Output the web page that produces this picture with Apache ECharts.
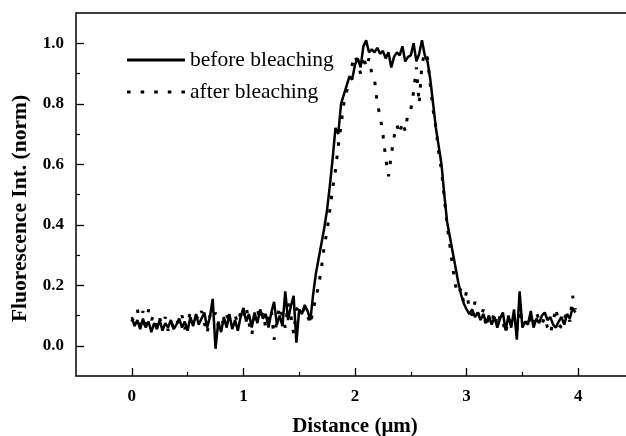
<!DOCTYPE html>
<html>
<head>
<meta charset="utf-8">
<script src="https://cdn.jsdelivr.net/npm/echarts@6/dist/echarts.min.js"></script>
<style>
html,body{margin:0;padding:0;background:#fff;}
#chart{width:626px;height:436px;}
</style>
</head>
<body>
<div id="chart"></div>
<script>
// Sample positions along the line profile (µm)
const distance = [
  0.000,0.025,0.050,0.075,0.100,0.125,0.150,0.175,0.200,0.225,
  0.250,0.275,0.300,0.325,0.350,0.375,0.400,0.425,0.450,0.475,
  0.500,0.525,0.550,0.575,0.600,0.625,0.650,0.675,0.700,0.725,
  0.750,0.775,0.800,0.825,0.850,0.875,0.900,0.925,0.950,0.975,
  1.000,1.025,1.050,1.075,1.100,1.125,1.150,1.175,1.200,1.225,
  1.250,1.275,1.300,1.325,1.350,1.375,1.400,1.425,1.450,1.475,
  1.500,1.525,1.550,1.575,1.600,1.625,1.650,1.675,1.700,1.725,
  1.750,1.775,1.800,1.825,1.850,1.875,1.900,1.925,1.950,1.975,
  2.000,2.025,2.050,2.075,2.100,2.125,2.150,2.175,2.200,2.225,
  2.250,2.275,2.300,2.325,2.350,2.375,2.400,2.425,2.450,2.475,
  2.500,2.525,2.550,2.575,2.600,2.625,2.650,2.675,2.700,2.725,
  2.750,2.775,2.800,2.825,2.850,2.875,2.900,2.925,2.950,2.975,
  3.000,3.025,3.050,3.075,3.100,3.125,3.150,3.175,3.200,3.225,
  3.250,3.275,3.300,3.325,3.350,3.375,3.400,3.425,3.450,3.475,
  3.500,3.525,3.550,3.575,3.600,3.625,3.650,3.675,3.700,3.725,
  3.750,3.775,3.800,3.825,3.850,3.875,3.900,3.925,3.950,3.975
];

const beforeBleaching = [
  0.095,0.065,0.085,0.055,0.090,0.060,0.080,0.045,0.075,0.055,
  0.085,0.050,0.075,0.060,0.085,0.055,0.070,0.090,0.060,0.080,
  0.050,0.095,0.065,0.105,0.070,0.090,0.110,0.060,0.095,0.155,
  -0.010,0.080,0.045,0.095,0.060,0.105,0.055,0.085,0.050,0.095,
  0.125,0.080,0.105,0.060,0.110,0.075,0.120,0.090,0.105,0.060,
  0.110,0.145,0.070,0.100,0.065,0.180,0.085,0.130,0.165,0.010,
  0.120,0.105,0.135,0.115,0.085,0.170,0.240,0.290,0.340,0.390,
  0.450,0.530,0.620,0.720,0.700,0.800,0.830,0.860,0.890,0.880,
  0.930,0.950,0.920,0.990,1.010,0.970,0.980,0.970,0.985,0.965,
  0.975,0.950,0.970,0.920,0.955,0.970,0.960,0.990,0.940,0.955,
  0.960,1.000,0.940,0.965,1.010,0.960,0.940,0.880,0.800,0.720,
  0.660,0.600,0.500,0.410,0.360,0.310,0.260,0.210,0.170,0.140,
  0.120,0.105,0.120,0.095,0.110,0.085,0.105,0.075,0.100,0.070,
  0.095,0.060,0.090,0.110,0.050,0.100,0.060,0.120,0.020,0.180,
  0.060,0.080,0.070,0.115,0.060,0.090,0.075,0.100,0.110,0.085,
  0.095,0.070,0.060,0.080,0.095,0.070,0.105,0.090,0.125,0.110
];

const afterBleaching = [
  0.080,0.100,0.120,0.070,0.115,0.050,0.120,0.085,0.100,0.060,
  0.090,0.070,0.095,0.050,0.080,0.060,0.085,0.070,0.100,0.055,
  0.080,0.110,0.070,0.100,0.085,0.115,0.075,0.040,0.100,0.085,
  0.110,0.065,0.090,0.070,0.100,0.085,0.060,0.100,0.075,0.110,
  0.090,0.130,0.075,0.035,0.100,0.120,0.085,0.110,0.060,0.095,
  0.120,0.020,0.085,0.130,0.095,0.060,0.140,0.100,0.040,0.120,
  0.130,0.110,0.125,0.100,0.070,0.120,0.160,0.200,0.260,0.330,
  0.380,0.450,0.520,0.580,0.660,0.730,0.800,0.840,0.880,0.930,
  0.960,0.930,0.900,0.960,0.920,0.950,0.900,0.880,0.800,0.760,
  0.700,0.620,0.560,0.630,0.690,0.730,0.700,0.740,0.710,0.770,
  0.780,0.840,0.920,0.800,0.930,0.970,0.950,0.860,0.780,0.720,
  0.640,0.580,0.490,0.400,0.330,0.260,0.200,0.170,0.190,0.140,
  0.180,0.120,0.100,0.145,0.110,0.090,0.120,0.060,0.095,0.080,
  0.110,0.065,0.100,0.080,0.040,0.090,0.075,0.100,0.050,0.120,
  0.080,0.090,0.060,0.100,0.075,0.110,0.085,0.070,0.095,0.060,
  0.040,0.080,0.125,0.070,0.060,0.090,0.110,0.080,0.165,0.120
];

const seriesNames = ['before bleaching', 'after bleaching'];
const xTickLabels = [0, 1, 2, 3, 4];
const xMinorTicks = [0.5, 1.5, 2.5, 3.5];
const yTickLabels = [0.0, 0.2, 0.4, 0.6, 0.8, 1.0];
const yMinorTicks = [0.1, 0.3, 0.5, 0.7, 0.9];
const xTitle = 'Distance (μm)';
const yTitle = 'Fluorescence Int. (norm)';

const pair = (ys) => distance.map((x, i) => [x, ys[i]]);

const serif = '"Liberation Serif", "Times New Roman", serif';
const black = '#000';
const solidStyle = {color: black, width: 2.5, type: 'solid'};
const dotStyle = {color: black, width: 3, type: [3.5, 10]};

const solidIcon = 'path://M0,0h58v3h-58z';
const dotIcon = 'path://M0,0h3.6v3h-3.6z M13.6,0h3.6v3h-3.6z M27.2,0h3.6v3h-3.6z M40.8,0h3.6v3h-3.6z M54.4,0h3.6v3h-3.6z';

const chart = echarts.init(document.getElementById('chart'), null, {renderer: 'canvas'});

chart.setOption({
  animation: false,
  backgroundColor: '#fff',
  grid: {left: 76, top: 13, width: 558, height: 363, containLabel: false, outerBoundsMode: 'none'},
  legend: {
    left: 122, top: 44, orient: 'vertical',
    itemWidth: 58, itemHeight: 3, itemGap: 10,
    data: [
      {name: seriesNames[0], icon: solidIcon},
      {name: seriesNames[1], icon: dotIcon}
    ],
    textStyle: {fontFamily: serif, fontSize: 21.5, color: black}
  },
  xAxis: [
    {
      type: 'value', min: -0.5, max: 4.5, position: 'bottom',
      axisLine: {show: true, onZero: false, lineStyle: {color: black, width: 1.5}},
      axisTick: {show: true, inside: true, length: 8, customValues: xTickLabels, lineStyle: {color: black, width: 1.3}},
      axisLabel: {show: true, customValues: xTickLabels, margin: 12, fontFamily: serif, fontWeight: 'bold', fontSize: 17, color: black,
        formatter: v => String(v)},
      splitLine: {show: false},
      name: xTitle, nameLocation: 'middle', nameGap: 40,
      nameTextStyle: {fontFamily: serif, fontWeight: 'bold', fontSize: 21, color: black}
    },
    {
      type: 'value', min: -0.5, max: 4.5, position: 'bottom',
      axisLine: {show: false, onZero: false},
      axisTick: {show: true, inside: true, length: 4, customValues: xMinorTicks, lineStyle: {color: black, width: 1.2}},
      axisLabel: {show: false}, splitLine: {show: false}
    },
    {
      type: 'value', min: -0.5, max: 4.5, position: 'top',
      axisLine: {show: true, onZero: false, lineStyle: {color: black, width: 1.5}},
      axisTick: {show: false}, axisLabel: {show: false}, splitLine: {show: false}
    }
  ],
  yAxis: [
    {
      type: 'value', min: -0.1, max: 1.1, position: 'left',
      axisLine: {show: true, onZero: false, lineStyle: {color: black, width: 1.5}},
      axisTick: {show: true, inside: true, length: 8, customValues: yTickLabels, lineStyle: {color: black, width: 1.3}},
      axisLabel: {show: true, customValues: yTickLabels, margin: 12, fontFamily: serif, fontWeight: 'bold', fontSize: 17, color: black,
        formatter: v => v.toFixed(1)},
      splitLine: {show: false},
      name: yTitle, nameLocation: 'middle', nameGap: 43, nameRotate: 90,
      nameTextStyle: {fontFamily: serif, fontWeight: 'bold', fontSize: 21.5, color: black, padding: [0, 28, 0, 0]}
    },
    {
      type: 'value', min: -0.1, max: 1.1, position: 'left',
      axisLine: {show: false, onZero: false},
      axisTick: {show: true, inside: true, length: 4, customValues: yMinorTicks, lineStyle: {color: black, width: 1.2}},
      axisLabel: {show: false}, splitLine: {show: false}
    }
  ],
  series: [
    {
      name: seriesNames[0], type: 'line', xAxisIndex: 0, yAxisIndex: 0,
      data: pair(beforeBleaching), showSymbol: false, symbol: 'none',
      lineStyle: solidStyle, itemStyle: {color: black}, z: 3
    },
    {
      name: seriesNames[1], type: 'line', xAxisIndex: 0, yAxisIndex: 0,
      data: pair(afterBleaching), showSymbol: false, symbol: 'none',
      lineStyle: dotStyle, itemStyle: {color: black}, z: 2
    }
  ]
});
</script>
</body>
</html>
